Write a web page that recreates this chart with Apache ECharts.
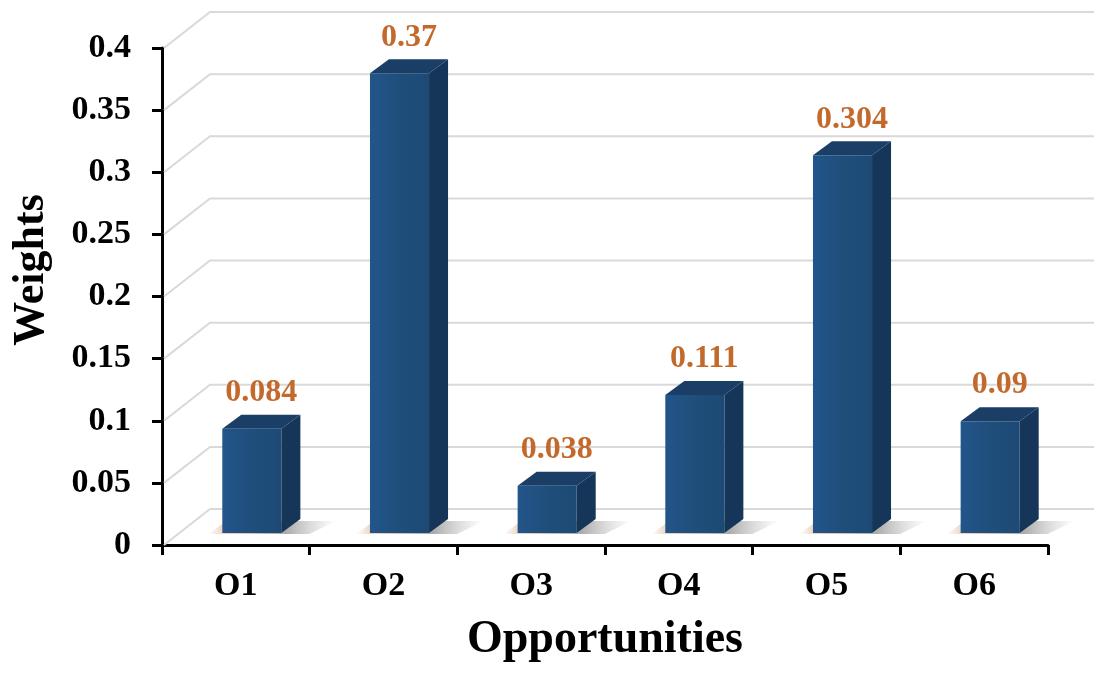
<!DOCTYPE html>
<html>
<head>
<meta charset="utf-8">
<script src="https://cdn.jsdelivr.net/npm/echarts@6/dist/echarts.min.js"></script>
<style>
  html, body { margin: 0; padding: 0; background: #fff; }
  #chart { width: 1094px; height: 673px; }
</style>
</head>
<body>
<div id="chart"></div>
<script>
// Opportunity weights
const categories = ['O1', 'O2', 'O3', 'O4', 'O5', 'O6'];
const weights = [0.084, 0.37, 0.038, 0.111, 0.304, 0.09];
const yTicks = [0, 0.05, 0.1, 0.15, 0.2, 0.25, 0.3, 0.35, 0.4];

const FONT = "'Liberation Serif', 'Times New Roman', serif";

// pseudo-3D geometry (pixels)
const WALL_DX = 48, WALL_DY = -36;   // depth of the floor / back wall
const BAR_FX = 16, BAR_FY = -12;     // bar front face inset from the axis plane
const BAR_DX = 19, BAR_DY = -14;     // bar depth
const BAR_W = 0.4;                   // bar width as a share of the category band

const chart = echarts.init(document.getElementById('chart'), null, { renderer: 'canvas' });

function renderGrid(params, api) {
  const cs = params.coordSys;
  const v = api.value(0);
  const y = api.coord([0, v])[1];
  const x0 = cs.x, x1 = cs.x + cs.width;
  return {
    type: 'polyline',
    silent: true,
    shape: { points: [[x0 + 2, y], [x0 + WALL_DX, y + WALL_DY], [x1 + WALL_DX, y + WALL_DY]] },
    style: { stroke: '#d9d9d9', lineWidth: 2, fill: null }
  };
}

function renderBar(params, api) {
  const idx = api.value(0);
  const val = api.value(1);
  const base = api.coord([idx, 0]);
  const top = api.coord([idx, val]);
  const band = api.size([1, 0])[0];
  const w = band * BAR_W;
  const x0 = base[0] - w / 2 + BAR_FX;
  const x1 = x0 + w;
  const yb = base[1] + BAR_FY;
  const yt = top[1] + BAR_FY;
  const label = String(weights[idx]);
  return {
    type: 'group',
    children: [
      {
        type: 'polygon',
        silent: true,
        shape: { points: [[x0 - 14, yb + 1], [x1 + 28, yb + 1], [x1 + BAR_DX + 36, yb + BAR_DY + 2], [x0 + 4, yb + BAR_DY + 2]] },
        style: {
          fill: new echarts.graphic.LinearGradient(0, 0, 1, 0, [
            { offset: 0, color: 'rgba(205,140,90,0.0)' },
            { offset: 0.12, color: 'rgba(200,130,80,0.35)' },
            { offset: 0.6, color: 'rgba(100,100,100,0.55)' },
            { offset: 1, color: 'rgba(150,150,150,0.0)' }
          ])
        }
      },
      {
        type: 'polygon',
        shape: { points: [[x1, yt], [x1 + BAR_DX, yt + BAR_DY], [x1 + BAR_DX, yb + BAR_DY], [x1, yb]] },
        style: { fill: '#163659' }
      },
      {
        type: 'polygon',
        shape: { points: [[x0, yt], [x1, yt], [x1 + BAR_DX, yt + BAR_DY], [x0 + BAR_DX, yt + BAR_DY]] },
        style: { fill: '#1a3e66' }
      },
      {
        type: 'rect',
        shape: { x: x0, y: yt, width: w, height: yb - yt },
        style: {
          fill: new echarts.graphic.LinearGradient(0, 0, 1, 0, [
            { offset: 0, color: '#22558a' },
            { offset: 0.5, color: '#1f4e7b' },
            { offset: 1, color: '#1d4a75' }
          ])
        }
      },
      {
        type: 'text',
        silent: true,
        style: {
          x: x0 + w / 2 + BAR_DX / 2,
          y: yt + BAR_DY - 6,
          text: label,
          align: 'center',
          verticalAlign: 'bottom',
          fill: '#c4692c',
          font: 'bold 32px ' + FONT
        }
      }
    ]
  };
}

chart.setOption({
  animation: false,
  backgroundColor: '#ffffff',
  grid: { left: 162, right: 46, top: 48, bottom: 128, containLabel: false },
  xAxis: {
    type: 'category',
    data: categories,
    boundaryGap: true,
    name: 'Opportunities',
    nameLocation: 'middle',
    nameGap: 72,
    nameTextStyle: { fontFamily: FONT, fontWeight: 'bold', fontSize: 46, color: '#000' },
    axisLine: { lineStyle: { color: '#000', width: 3 } },
    axisTick: { show: true, length: 10, lineStyle: { color: '#000', width: 3 } },
    axisLabel: { margin: 24, fontFamily: FONT, fontWeight: 'bold', fontSize: 34, color: '#000' },
    splitLine: { show: false }
  },
  yAxis: {
    type: 'value',
    min: 0,
    max: 0.4,
    interval: 0.05,
    axisLine: { show: true, lineStyle: { color: '#000', width: 3 } },
    axisTick: { show: true, length: 10, lineStyle: { color: '#000', width: 3 } },
    axisLabel: { margin: 31, fontFamily: FONT, fontWeight: 'bold', fontSize: 34, color: '#000',
      formatter: v => String(+v.toFixed(2)) },
    splitLine: { show: false }
  },
  graphic: [{
    type: 'text',
    x: 32,
    y: 270,
    rotation: Math.PI / 2,
    style: {
      text: 'Weights',
      align: 'center',
      verticalAlign: 'middle',
      fill: '#000',
      font: 'bold 44px ' + FONT
    }
  }],
  series: [
    {
      type: 'custom',
      name: 'grid',
      renderItem: renderGrid,
      data: yTicks.map(v => [v]),
      encode: { y: 0 },
      z: 1,
      silent: true,
      clip: false
    },
    {
      type: 'custom',
      name: 'Weights',
      renderItem: renderBar,
      data: weights.map((v, i) => [i, v]),
      encode: { x: 0, y: 1 },
      z: 3,
      clip: false
    }
  ]
});
</script>
</body>
</html>
